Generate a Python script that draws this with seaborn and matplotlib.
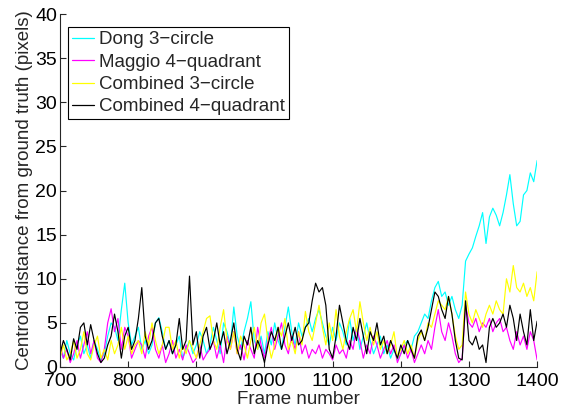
import numpy as np
import pandas as pd
import matplotlib
matplotlib.use("Agg")
import matplotlib.pyplot as plt
import seaborn as sns
from matplotlib.lines import Line2D

frames = list(range(700, 1401, 5))

dong_3circle = [
    2.0, 1.0, 3.0, 1.5, 0.8, 2.5, 3.5, 1.5, 2.5, 1.0,
    3.0, 2.0, 0.8, 1.5, 3.5, 5.0, 4.5, 3.0, 6.5, 9.5,
    5.0, 2.5, 3.5, 4.5, 2.0, 3.0, 1.5, 2.5, 5.0, 5.6,
    4.0, 2.0, 3.0, 1.5, 2.5, 3.5, 1.0, 2.0, 3.0, 1.5,
    2.5, 4.0, 3.0, 1.5, 2.5, 4.5, 3.0, 1.5, 5.0, 4.0,
    2.5, 6.8, 3.5, 2.0, 4.0, 5.5, 7.4, 3.0, 2.0, 3.5,
    1.5, 4.0, 2.5, 5.0, 3.0, 2.0, 4.5, 6.8, 4.0, 2.5,
    5.0, 3.5, 4.5, 5.5, 4.0, 5.5, 6.5, 5.0, 3.5, 2.5,
    4.5, 3.0, 5.0, 4.0, 2.5, 5.5, 3.0, 4.5, 2.0, 3.5,
    5.0, 3.0, 1.5, 2.5, 3.5, 1.5, 2.5, 1.0, 2.0, 0.8,
    1.5, 2.5, 3.0, 2.0, 3.5, 4.0, 5.0, 6.0, 5.5, 7.5,
    9.0, 9.7, 8.0, 8.5, 7.0, 8.0, 6.5, 5.5, 7.0, 12.0,
    12.8, 13.5, 14.8, 16.0, 17.5, 14.0, 17.0, 18.0, 17.2, 16.0,
    17.5, 19.5, 21.8, 18.5, 16.0, 16.5, 19.5, 20.0, 22.0, 21.0,
    23.4,
]

maggio_4quadrant = [
    2.5, 1.0, 2.0, 0.5, 1.5, 3.0, 1.0, 2.5, 4.0, 1.5,
    3.0, 1.0, 0.5, 2.0, 5.0, 6.6, 4.0, 5.5, 2.0, 4.5,
    3.5, 1.0, 2.0, 3.0, 2.5, 1.0, 3.5, 4.5, 2.0, 1.0,
    2.5, 0.5, 1.5, 3.0, 1.0, 2.0, 0.8, 2.5, 1.5, 0.5,
    1.0, 2.5, 0.8, 1.5, 2.0, 3.0, 1.0, 2.5, 0.5, 3.5,
    2.0, 4.0, 1.5, 2.5, 0.8, 3.0, 2.0, 1.0, 4.5, 2.5,
    1.0, 3.0, 4.5, 2.0, 3.5, 5.0, 2.5, 1.5, 3.5, 2.0,
    4.0, 1.5, 2.5, 1.0, 2.0, 1.5, 2.5, 1.0, 2.0, 1.5,
    0.8, 2.5, 1.5, 2.0, 1.0, 3.0, 2.0, 4.5, 3.0, 1.0,
    2.5, 1.5, 3.5, 2.5, 1.0, 2.0, 3.0, 1.5, 2.5, 0.5,
    1.5, 2.5, 1.0, 2.0, 0.5, 1.5, 2.5, 1.5, 3.0, 2.0,
    4.5, 6.5, 4.0, 3.0, 5.0, 3.5, 1.5, 0.5, 1.0, 7.0,
    5.0, 4.5, 5.5, 4.0, 5.0, 4.5, 5.5, 4.0, 5.0, 5.5,
    4.0, 4.5, 3.0, 2.0, 4.0, 2.5, 3.5, 2.0, 4.0, 3.0,
    0.8,
]

combined_3circle = [
    1.0, 2.5, 0.8, 1.5, 3.0, 1.0, 2.0, 4.0, 1.5, 0.8,
    2.5, 3.5, 1.0, 2.0, 0.8, 3.0, 1.5, 2.5, 4.5, 2.0,
    3.5, 1.5, 2.5, 3.0, 1.5, 4.0, 2.5, 5.0, 3.0, 1.5,
    2.5, 4.5, 4.5, 2.0, 3.0, 1.0, 2.5, 1.5, 3.0, 2.0,
    1.0, 2.5, 4.0, 5.5, 5.8, 3.0, 2.0, 4.5, 6.5, 3.0,
    2.0, 4.0, 1.5, 3.5, 2.5, 1.0, 3.0, 4.5, 2.0, 5.0,
    6.0, 3.0, 1.0, 2.5, 4.5, 3.5, 5.5, 2.0, 3.0, 1.5,
    4.0, 2.5, 6.3, 4.0, 3.0, 5.0, 7.0, 4.5, 2.5, 5.0,
    3.0, 6.5, 3.5, 2.0, 4.0, 5.5, 6.5, 4.0, 7.4, 5.0,
    3.0, 4.5, 2.5, 4.0, 2.0, 3.0, 1.5, 2.5, 4.0, 1.0,
    2.0, 3.0, 1.5, 2.5, 1.0, 3.0, 4.0, 3.0, 5.0, 4.5,
    6.0, 7.5, 7.0, 6.5, 8.0, 6.0, 3.5, 2.0, 2.5, 8.5,
    6.0, 5.0, 6.5, 5.5, 4.5, 6.0, 7.0, 6.0, 7.5, 6.5,
    6.0, 10.0, 8.5, 11.5, 9.0, 8.5, 9.5, 8.0, 9.0, 7.5,
    10.8,
]

combined_4quadrant = [
    1.5, 3.0, 2.0, 0.8, 3.2, 2.0, 4.5, 5.0, 2.5, 4.8,
    3.0, 1.5, 0.5, 1.0, 2.5, 3.5, 6.0, 4.0, 1.0, 3.5,
    4.5, 2.0, 3.0, 5.5, 9.0, 3.5, 2.0, 3.0, 5.0, 5.5,
    3.5, 2.0, 3.0, 1.5, 2.5, 5.5, 2.0, 3.0, 10.3, 2.5,
    4.0, 1.0, 3.5, 4.5, 2.0, 3.0, 5.0, 2.5, 4.0, 1.5,
    3.0, 5.0, 2.0, 0.8, 3.5, 2.5, 4.5, 1.5, 3.0, 2.0,
    0.5, 2.5, 4.0, 3.0, 4.5, 2.0, 3.5, 5.0, 3.0, 4.5,
    2.5, 3.0, 4.5, 5.0, 7.5, 9.5, 8.5, 9.0, 7.0, 2.0,
    1.0, 3.5, 7.0, 5.0, 3.0, 2.0, 4.5, 3.0, 5.5, 3.5,
    1.5, 4.0, 3.0, 5.0, 2.5, 3.5, 1.5, 3.0, 2.0, 1.0,
    2.5, 1.5, 3.0, 2.0, 1.0, 3.5, 4.2, 3.0, 4.5, 6.5,
    8.5, 8.0, 6.5, 5.5, 8.0, 6.0, 3.0, 1.0, 0.8, 7.5,
    3.0, 2.5, 3.5, 2.0, 2.5, 0.5, 4.5, 5.5, 4.5, 5.0,
    6.0, 4.5, 7.0, 5.5, 3.0, 6.0, 4.0, 2.5, 6.5, 3.0,
    5.2,
]

labels = ["Dong 3\u2212circle", "Maggio 4\u2212quadrant",
          "Combined 3\u2212circle", "Combined 4\u2212quadrant"]
colors = ["#00ffff", "#ff00ff", "#ffff00", "#000000"]

df = pd.concat([
    pd.DataFrame({"frame": frames, "dist": vals, "method": lab})
    for vals, lab in zip([dong_3circle, maggio_4quadrant,
                          combined_3circle, combined_4quadrant], labels)
], ignore_index=True)

sns.set_theme(style="white")
plt.rcParams["font.family"] = ["Liberation Sans", "DejaVu Sans"]

fig = plt.figure(figsize=(5.66, 4.08), dpi=100)
ax = fig.add_axes([0.106, 0.1005, 0.843, 0.865])

sns.lineplot(data=df, x="frame", y="dist", hue="method", hue_order=labels,
             palette=dict(zip(labels, colors)), linewidth=0.85, ax=ax,
             legend=False, estimator=None)

ax.set_xlim(700, 1400)
ax.set_ylim(0, 40)
ax.set_xticks(range(700, 1401, 100))
ax.set_yticks(range(0, 41, 5))
ax.tick_params(direction="in", length=4, width=0.8, colors="#262626",
               labelsize=14, labelcolor="black", bottom=True, left=True)
ax.tick_params(axis="x", pad=4)
ax.tick_params(axis="y", pad=2)
for s in ["top", "right"]:
    ax.spines[s].set_visible(False)
for s in ["left", "bottom"]:
    ax.spines[s].set_color("#262626")
    ax.spines[s].set_linewidth(0.8)

ax.set_xlabel("Frame number", fontsize=13.5, labelpad=1)
ax.set_ylabel("Centroid distance from ground truth (pixels)", fontsize=13.5,
              labelpad=2)

handles = [Line2D([], [], color=c, lw=0.9) for c in colors]
leg = ax.legend(handles, labels, loc="upper left", fontsize=13.5,
                frameon=True, fancybox=False, framealpha=1,
                edgecolor="black", handlelength=1.2, handletextpad=0.25,
                borderpad=0.2, labelspacing=0.28, borderaxespad=0,
                bbox_to_anchor=(0.017, 0.962))
leg.get_frame().set_linewidth(0.8)

fig.savefig("out.png", dpi=100)
